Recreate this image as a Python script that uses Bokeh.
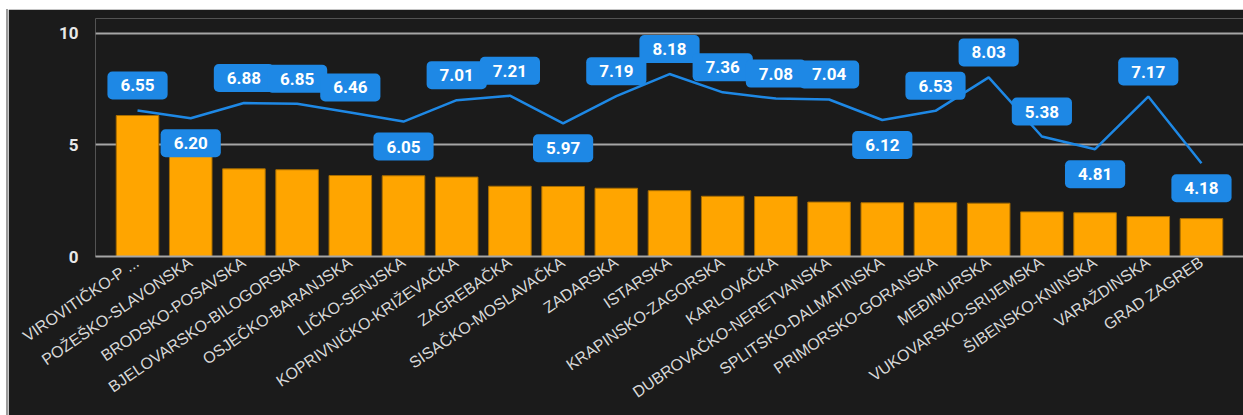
from bokeh.plotting import figure
from bokeh.models import ColumnDataSource, FactorRange, FixedTicker, Spacer
from bokeh.layouts import column, row
from bokeh.core.properties import value
from bokeh.embed import file_html
from bokeh.resources import INLINE

counties = ["VIROVITIČKO-P ...", "POŽEŠKO-SLAVONSKA", "BRODSKO-POSAVSKA", "BJELOVARSKO-BILOGORSKA",
            "OSJEČKO-BARANJSKA", "LIČKO-SENJSKA", "KOPRIVNIČKO-KRIŽEVAČKA", "ZAGREBAČKA",
            "SISAČKO-MOSLAVAČKA", "ZADARSKA", "ISTARSKA", "KRAPINSKO-ZAGORSKA", "KARLOVAČKA",
            "DUBROVAČKO-NERETVANSKA", "SPLITSKO-DALMATINSKA", "PRIMORSKO-GORANSKA", "MEĐIMURSKA",
            "VUKOVARSKO-SRIJEMSKA", "ŠIBENSKO-KNINSKA", "VARAŽDINSKA", "GRAD ZAGREB"]
bar_values = [6.32, 4.55, 3.93, 3.89, 3.63, 3.62, 3.56, 3.15, 3.14, 3.06, 2.95, 2.70, 2.69,
              2.44, 2.41, 2.41, 2.39, 2.00, 1.96, 1.79, 1.70]
line_values = [6.55, 6.20, 6.88, 6.85, 6.46, 6.05, 7.01, 7.21, 5.97, 7.19, 8.18, 7.36, 7.08,
               7.04, 6.12, 6.53, 8.03, 5.38, 4.81, 7.17, 4.18]
y_ticks = [0, 5, 10]

BG = "#1b1b1b"
BLUE = "#1e88e5"
ORANGE = "#ffa500"
OFF = 1.12  # label offset in data units

n = len(line_values)
label_y = []
for i, v in enumerate(line_values):
    nb = []
    if i > 0:
        nb.append(line_values[i - 1])
    if i < n - 1:
        nb.append(line_values[i + 1])
    below = all(v < u for u in nb)
    label_y.append(v - OFF if below else v + OFF)

src = ColumnDataSource(dict(x=counties, bar=bar_values, line=line_values,
                            ly=label_y, txt=[f"{v:.2f}" for v in line_values]))

p = figure(width=1235, height=406, output_backend="svg", toolbar_location=None,
           x_range=FactorRange(factors=counties, range_padding=0.29, range_padding_units="absolute"),
           y_range=(0, 10.67),
           background_fill_color=BG, border_fill_color=BG,
           min_border_left=87, min_border_right=0, min_border_top=9, min_border_bottom=159)
p.outline_line_color = None

p.vbar(x="x", top="bar", width=0.8, source=src, fill_color=ORANGE,
       line_color="#a86d00", line_width=1)
p.line(x="x", y="line", source=src, line_color=BLUE, line_width=2.5)
p.text(x="x", y="ly", text="txt", source=src, text_align="center", text_baseline="middle",
       text_color="white", text_font=value("Roboto"), text_font_style="bold",
       text_font_size="17px", background_fill_color=BLUE, border_radius=5,
       padding=(13, 8))

p.xgrid.grid_line_color = None
p.ygrid.grid_line_color = "#a6a6a6"
p.ygrid.grid_line_width = 2
p.yaxis.ticker = FixedTicker(ticks=y_ticks)
p.yaxis.axis_line_color = None
p.yaxis.major_tick_line_color = None
p.yaxis.major_tick_out = 0
p.yaxis.minor_tick_line_color = None
p.yaxis.minor_tick_out = 0
p.yaxis.major_label_standoff = 17
p.yaxis.major_label_text_color = "#e8e8e8"
p.yaxis.major_label_text_font = "Roboto"
p.yaxis.major_label_text_font_style = "bold"
p.yaxis.major_label_text_font_size = "17px"

p.xaxis.axis_line_color = "#a6a6a6"
p.xaxis.axis_line_width = 2
p.xaxis.major_tick_line_color = None
p.xaxis.major_tick_out = 0
p.xaxis.minor_tick_line_color = None
p.xaxis.minor_tick_out = 0
p.xaxis.major_label_orientation = 0.6
p.xaxis.major_label_standoff = 4
p.xaxis.major_label_text_color = "#d8d8d8"
p.xaxis.major_label_text_font = "Liberation Sans"
p.xaxis.major_label_text_font_style = "normal"
p.xaxis.major_label_text_font_size = "16px"

edge = Spacer(width=2, height=406, styles={"background-color": "#9b9b9b"})
layout = column(Spacer(height=9), row(Spacer(width=6), edge, p))

open("out.html", "w").write(file_html(layout, INLINE))
